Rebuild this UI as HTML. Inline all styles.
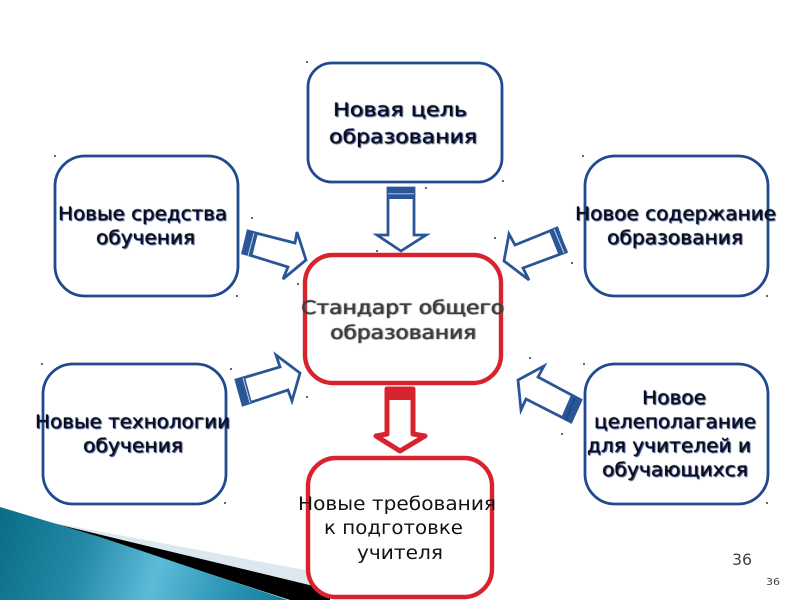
<!DOCTYPE html>
<html><head><meta charset="utf-8"><style>
html,body{margin:0;padding:0;background:#fff}
svg{display:block}
text{font-family:"DejaVu Sans","Liberation Sans",sans-serif;font-size:19px;fill:#0a0a14}
.s{text-shadow:1px 1px 1px #1a2f6b,0 0 1px #1a2f6b}
.g{fill:#3c3c3c;text-shadow:0 0 1px #444,1px 0 1px #666}
.p{fill:#111}
.b{fill:#fff;stroke:#1f4b8e;stroke-width:2.8}
.r{fill:#fff;stroke:#d8232f;stroke-width:4.4}
.a{fill:#fff;stroke:#2a5698;stroke-width:2.8;stroke-linejoin:miter}
.d{fill:#2a5698}
</style></head><body>
<svg width="800" height="600" viewBox="0 0 800 600" xmlns="http://www.w3.org/2000/svg">
<defs><linearGradient id="t" gradientUnits="userSpaceOnUse" x1="0" y1="510" x2="290" y2="600">
<stop offset="0" stop-color="#0a6d85"/><stop offset=".3" stop-color="#2389a6"/><stop offset=".55" stop-color="#5dbbd8"/><stop offset=".8" stop-color="#2a94b3"/><stop offset="1" stop-color="#0f7d98"/></linearGradient></defs>
<polygon points="50,522 310,571 310,590 75,529" fill="#dbe9ef"/>
<polygon points="52,523 330,590 330,600 290,600" fill="#000"/>
<polygon points="0,507 100,537 288,600 0,600" fill="url(#t)"/>

<rect class="b" x="308" y="63" width="194" height="119" rx="24"/>
<rect class="b" x="55" y="156" width="183" height="140" rx="30"/>
<rect class="b" x="585" y="156" width="183" height="140" rx="30"/>
<rect class="b" x="43" y="364" width="183" height="140" rx="30"/>
<rect class="b" x="585" y="364" width="183" height="140" rx="30"/>
<rect class="r" x="305" y="255" width="196" height="128" rx="28"/>
<rect class="r" x="308" y="458" width="184" height="139" rx="28"/>

<!-- down -->
<polygon class="a" points="388,188 414,188 414,235 426,235 401,251 377,235 388,235"/>
<rect class="d" x="387" y="187" width="28" height="12"/><rect x="388" y="193" width="26" height="1.4" fill="#8aa6cc"/>
<!-- left -->
<polygon class="a" points="248,231 295,243 297,232 306,260 283,279 288,267 243,253"/>
<polygon class="d" points="247,230 258,233 252,257 241,254"/>
<line x1="254" y1="233" x2="248" y2="256" stroke="#c4d2e6" stroke-width="1"/>
<!-- right -->
<polygon class="a" points="557,228 515,245 509,234 504,261 529,280 523,268 566,252"/>
<polygon class="d" points="557,227 568,252 559,256 549,231"/>
<line x1="554" y1="229" x2="564" y2="253" stroke="#c4d2e6" stroke-width="1"/>
<!-- lower left -->
<polygon class="a" points="236,380 280,367 276,355 300,373 292,401 288,390 243,405"/>
<polygon class="d" points="235,380 245,377 252,403 242,406"/>
<line x1="243" y1="378" x2="250" y2="403" stroke="#c4d2e6" stroke-width="1"/>
<!-- lower right -->
<polygon class="a" points="581,400 538,377 544,366 518,380 521,410 526,399 571,422"/>
<polygon class="d" points="571,395 581,400 572,423 561,418"/>
<line x1="575" y1="398" x2="566" y2="420" stroke="#1c3f78" stroke-width="1"/>
<!-- red -->
<polygon points="387,389 413,389 413,434 425,436 400,451 376,436 387,434" fill="#fff" stroke="#d8232f" stroke-width="5" stroke-linejoin="round"/>
<rect x="385" y="387" width="29" height="13" fill="#d8232f"/>

<text class="s" x="333" y="116" textLength="134" lengthAdjust="spacingAndGlyphs">Новая цель</text>
<text class="s" x="329" y="143" textLength="148" lengthAdjust="spacingAndGlyphs">образования</text>
<text class="s" x="58" y="220" textLength="169" lengthAdjust="spacingAndGlyphs">Новые средства</text>
<text class="s" x="96" y="244" textLength="99" lengthAdjust="spacingAndGlyphs">обучения</text>
<text class="s" x="575" y="220" textLength="201" lengthAdjust="spacingAndGlyphs">Новое содержание</text>
<text class="s" x="607" y="244" textLength="136" lengthAdjust="spacingAndGlyphs">образования</text>
<text class="g" x="301" y="314" textLength="203" lengthAdjust="spacingAndGlyphs">Стандарт общего</text>
<text class="g" x="330" y="339" textLength="146" lengthAdjust="spacingAndGlyphs">образования</text>
<text class="s" x="35" y="428" textLength="195" lengthAdjust="spacingAndGlyphs">Новые технологии</text>
<text class="s" x="83" y="452" textLength="100" lengthAdjust="spacingAndGlyphs">обучения</text>
<text class="s" x="642" y="404" textLength="64" lengthAdjust="spacingAndGlyphs">Новое</text>
<text class="s" x="594" y="428" textLength="162" lengthAdjust="spacingAndGlyphs">целеполагание</text>
<text class="s" x="587" y="452" textLength="164" lengthAdjust="spacingAndGlyphs">для учителей и</text>
<text class="s" x="602" y="476" textLength="146" lengthAdjust="spacingAndGlyphs">обучающихся</text>
<text class="p" x="298" y="510" textLength="198" lengthAdjust="spacingAndGlyphs">Новые требования</text>
<text class="p" x="324" y="534" textLength="139" lengthAdjust="spacingAndGlyphs">к подготовке</text>
<text class="p" x="357" y="559" textLength="86" lengthAdjust="spacingAndGlyphs">учителя</text>
<text x="732" y="565" textLength="20" lengthAdjust="spacingAndGlyphs" style="font-size:16px;fill:#444">36</text>
<text x="766" y="585" textLength="14" lengthAdjust="spacingAndGlyphs" style="font-size:10px;fill:#444">36</text>

<g fill="#334">
<circle cx="307" cy="62" r="1"/><circle cx="503" cy="181" r="1"/>
<circle cx="55" cy="156" r="1"/><circle cx="237" cy="296" r="1"/>
<circle cx="583" cy="156" r="1"/><circle cx="767" cy="296" r="1"/>
<circle cx="42" cy="364" r="1"/><circle cx="225" cy="503" r="1"/>
<circle cx="584" cy="364" r="1"/><circle cx="767" cy="503" r="1"/>
<circle cx="252" cy="218" r="1"/><circle cx="298" cy="284" r="1"/>
<circle cx="426" cy="188" r="1"/><circle cx="377" cy="251" r="1"/>
<circle cx="495" cy="238" r="1"/><circle cx="572" cy="263" r="1"/>
<circle cx="530" cy="358" r="1"/><circle cx="562" cy="434" r="1"/>
<circle cx="231" cy="369" r="1"/><circle cx="307" cy="397" r="1"/>
</g>
</svg>
</body></html>
